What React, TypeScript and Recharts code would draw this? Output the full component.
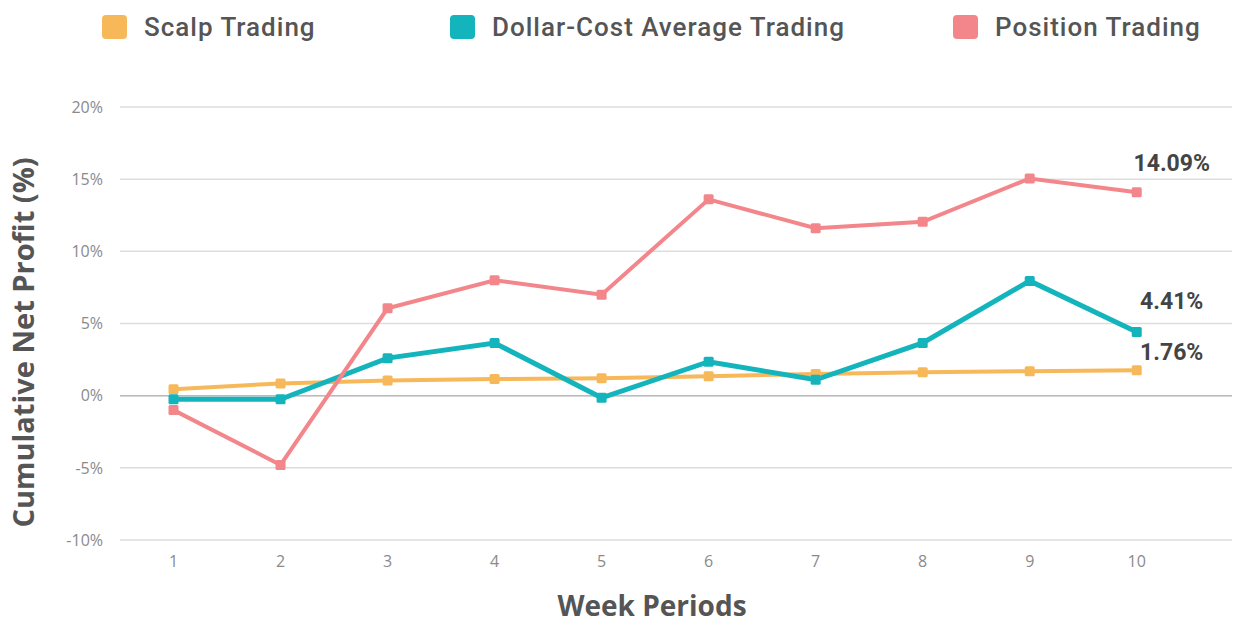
import React from "react"
import {
  LineChart,
  Line,
  XAxis,
  YAxis,
  CartesianGrid,
  Legend,
  ReferenceLine,
  LabelList,
  Label,
} from "recharts"

const weeks = [1, 2, 3, 4, 5, 6, 7, 8, 9, 10]
const scalp = [0.45, 0.85, 1.05, 1.15, 1.2, 1.35, 1.5, 1.62, 1.7, 1.76]
const dca = [-0.25, -0.25, 2.6, 3.65, -0.15, 2.35, 1.1, 3.65, 7.95, 4.41]
const position = [-1.0, -4.8, 6.05, 8.0, 7.0, 13.6, 11.6, 12.05, 15.05, 14.09]
const yTicks = [-10, -5, 0, 5, 10, 15, 20]

const series = [
  { key: "scalp", name: "Scalp Trading", color: "#F7B85A", width: 4 },
  { key: "dca", name: "Dollar-Cost Average Trading", color: "#13B4BC", width: 5 },
  { key: "position", name: "Position Trading", color: "#F3868A", width: 4 },
]

const legendLeft = [102, 450, 953]
const endLabelDy: Record<string, number> = { scalp: -18, dca: -31, position: -29 }

const data = weeks.map((w, i) => ({
  week: w,
  scalp: scalp[i],
  dca: dca[i],
  position: position[i],
}))

const FONT = "'Open Sans', sans-serif"

function SquareDot(props: any) {
  const { cx, cy, stroke } = props
  if (cx == null || cy == null) return null
  return <rect x={cx - 5} y={cy - 5} width={10} height={10} rx={1.5} fill={stroke} />
}

function LegendContent() {
  return (
    <div style={{ position: "relative", height: 54, width: 1234 }}>
      {series.map((s, i) => (
        <div
          key={s.key}
          style={{
            position: "absolute",
            left: legendLeft[i],
            top: 14,
            height: 26,
            display: "flex",
            alignItems: "center",
            fontFamily: "Roboto, sans-serif",
            fontWeight: 500,
            fontSize: 26,
            letterSpacing: 1,
            color: "#555",
            whiteSpace: "nowrap",
          }}
        >
          <span
            style={{
              display: "inline-block",
              width: 25,
              height: 24,
              borderRadius: 4,
              background: s.color,
              marginRight: 17,
            }}
          />
          {s.name}
        </div>
      ))}
    </div>
  )
}

function endLabel(key: string) {
  return (props: any) => {
    const { x, y, value, index } = props
    if (index !== weeks.length - 1) return null
    return (
      <text
        x={x + 35}
        y={y + endLabelDy[key]}
        textAnchor="middle"
        dominantBaseline="central"
        fontFamily="Roboto, sans-serif"
        fontWeight={700}
        fontSize={23}
        fill="#444"
      >
        {value.toFixed(2)}%
      </text>
    )
  }
}

export default function App() {
  return (
    <div style={{ position: "absolute", left: 0, top: 0, width: 1234, height: 626, background: "#fff" }}>
      <LineChart
        width={1234}
        height={626}
        data={data}
        margin={{ top: 53, right: 2, bottom: 6, left: 0 }}
      >
        <Legend
          verticalAlign="top"
          align="left"
          wrapperStyle={{ top: 0, left: 0 }}
          content={<LegendContent />}
        />
        <CartesianGrid vertical={false} stroke="#DDDDDD" strokeWidth={1.5} />
        <XAxis
          dataKey="week"
          type="number"
          domain={[0.5, 10.89]}
          ticks={weeks}
          axisLine={false}
          tickLine={false}
          height={80}
          tick={{ fontSize: 16, fill: "#8A8A8A", fontFamily: FONT, dy: 8 }}
        >
          <Label
            content={({ viewBox }: any) => (
              <text
                x={viewBox.x + 532}
                y={viewBox.y + 65}
                textAnchor="middle"
                dominantBaseline="central"
                fontFamily={FONT}
                fontWeight={700}
                fontSize={28}
                fill="#555"
              >
                Week Periods
              </text>
            )}
          />
        </XAxis>
        <YAxis
          type="number"
          domain={[-10, 20]}
          ticks={yTicks}
          width={120}
          axisLine={false}
          tickLine={false}
          tickMargin={11}
          tickFormatter={(v) => `${v}%`}
          tick={{ fontSize: 16, fill: "#8A8A8A", fontFamily: FONT }}
        >
          <Label
            content={({ viewBox }: any) => {
              const cx = 22
              const cy = viewBox.y + viewBox.height / 2 + 19
              return (
                <text
                  x={cx}
                  y={cy}
                  transform={`rotate(-90 ${cx} ${cy})`}
                  textAnchor="middle"
                  dominantBaseline="central"
                  fontFamily={FONT}
                  fontWeight={700}
                  fontSize={29}
                  fill="#555"
                >
                  Cumulative Net Profit (%)
                </text>
              )
            }}
          />
        </YAxis>
        <ReferenceLine y={0} stroke="#BBBBBB" strokeWidth={1.5} />
        {series.map((s) => (
          <Line
            key={s.key}
            dataKey={s.key}
            name={s.name}
            stroke={s.color}
            strokeWidth={s.width}
            dot={<SquareDot />}
            activeDot={false}
            isAnimationActive={false}
          >
            <LabelList dataKey={s.key} content={endLabel(s.key)} />
          </Line>
        ))}
      </LineChart>
    </div>
  )
}
